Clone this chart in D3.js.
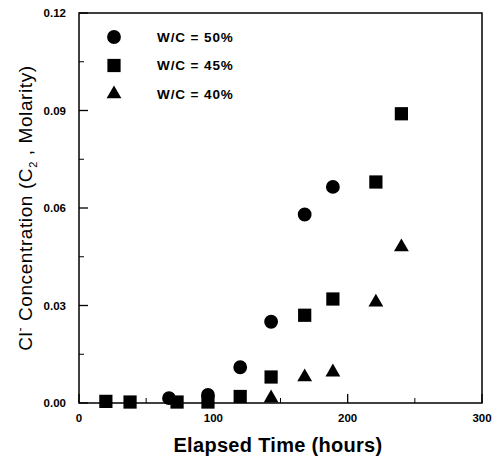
<!DOCTYPE html>
<html><head><meta charset="utf-8">
<script src="https://cdn.jsdelivr.net/npm/d3@7/dist/d3.min.js"></script>
<style>body{margin:0;background:#fff}svg{display:block}</style>
</head><body>
<svg id="c" width="493" height="458"></svg>
<script>
const xTicks = [0, 100, 200, 300];
const yTicks = [0.00, 0.03, 0.06, 0.09, 0.12];
const seriesNames = ["W/C = 50%", "W/C = 45%", "W/C = 40%"];
const timeCircle = [67, 96, 120, 143, 168, 189];
const valCircle  = [0.0015, 0.0025, 0.011, 0.025, 0.058, 0.0665];
const timeSquare = [20, 38, 73, 96, 120, 143, 168, 189, 221, 240];
const valSquare  = [0.0005, 0.0003, 0.0003, 0.0003, 0.002, 0.008, 0.027, 0.032, 0.068, 0.089];
const timeTri    = [143, 168, 189, 221, 240];
const valTri     = [0.0015, 0.008, 0.0095, 0.031, 0.048];

const svg = d3.select("#c");
const L = 79, R = 482, T = 13, B = 403;
const x = d3.scaleLinear().domain([0, 300]).range([L, R]);
const y = d3.scaleLinear().domain([0, 0.12]).range([B, T]);
const font = "Arial, 'Liberation Sans', sans-serif";

// frame
svg.append("rect").attr("x", L).attr("y", T).attr("width", R - L).attr("height", B - T)
  .attr("fill", "none").attr("stroke", "#000").attr("stroke-width", 1.5);

// ticks (inward)
const g = svg.append("g");
yTicks.forEach(v => g.append("line").attr("x1", L).attr("x2", L + 9).attr("y1", y(v)).attr("y2", y(v)).attr("stroke", "#000").attr("stroke-width", 1.3));
d3.range(0.015, 0.12, 0.03).forEach(v => g.append("line").attr("x1", L).attr("x2", L + 5).attr("y1", y(v)).attr("y2", y(v)).attr("stroke", "#000").attr("stroke-width", 1));
xTicks.forEach(v => g.append("line").attr("x1", x(v)).attr("x2", x(v)).attr("y1", B).attr("y2", B - 9).attr("stroke", "#000").attr("stroke-width", 1.3));
[50, 150, 250].forEach(v => g.append("line").attr("x1", x(v)).attr("x2", x(v)).attr("y1", B).attr("y2", B - 5).attr("stroke", "#000").attr("stroke-width", 1));

// tick labels
yTicks.forEach(v => svg.append("text").attr("x", L - 13).attr("y", y(v)).attr("dy", "0.35em")
  .attr("text-anchor", "end").attr("font-family", font).attr("font-weight", "bold").attr("font-size", 11.5)
  .text(d3.format(".2f")(v)));
xTicks.forEach(v => svg.append("text").attr("x", x(v)).attr("y", 422)
  .attr("text-anchor", "middle").attr("font-family", font).attr("font-weight", "bold").attr("font-size", 11.5)
  .text(v));

// axis titles
svg.append("text").attr("x", 278).attr("y", 452).attr("text-anchor", "middle")
  .attr("font-family", font).attr("font-weight", "bold").attr("font-size", 20).attr("letter-spacing", 0.3).text("Elapsed Time (hours)");
const yt = svg.append("text").attr("transform", "translate(32,208) rotate(-90)").attr("text-anchor", "middle")
  .attr("font-family", font).attr("font-size", 19).attr("letter-spacing", 0.6);
yt.append("tspan").text("Cl");
yt.append("tspan").attr("dy", -8).attr("font-size", 12).text("-");
yt.append("tspan").attr("dy", 8).text(" Concentration (C");
yt.append("tspan").attr("dy", 5).attr("font-size", 11).text("2");
yt.append("tspan").attr("dy", -5).text(" , Molarity)");

// markers
const sym = {
  circle: d3.symbol().type(d3.symbolCircle).size(150),
  square: d3.symbol().type(d3.symbolSquare).size(175),
  tri: d3.symbol().type(d3.symbolTriangle).size(95)
};
function draw(ts, vs, s) {
  svg.append("g").selectAll("path").data(ts).join("path")
    .attr("transform", (d, i) => `translate(${x(d)},${y(vs[i])})`)
    .attr("d", sym[s]).attr("fill", "#000");
}
draw(timeCircle, valCircle, "circle");
draw(timeSquare, valSquare, "square");
draw(timeTri, valTri, "tri");

// legend
const keys = ["circle", "square", "tri"];
seriesNames.forEach((n, i) => {
  const yy = 37 + i * 28.5;
  svg.append("path").attr("transform", `translate(114,${yy})`).attr("d", sym[keys[i]]).attr("fill", "#000");
  svg.append("text").attr("x", 157).attr("y", yy).attr("dy", "0.35em")
    .attr("font-family", font).attr("font-weight", "bold").attr("font-size", 13.5).attr("letter-spacing", 0.9).text(n);
});
</script>
</body></html>
